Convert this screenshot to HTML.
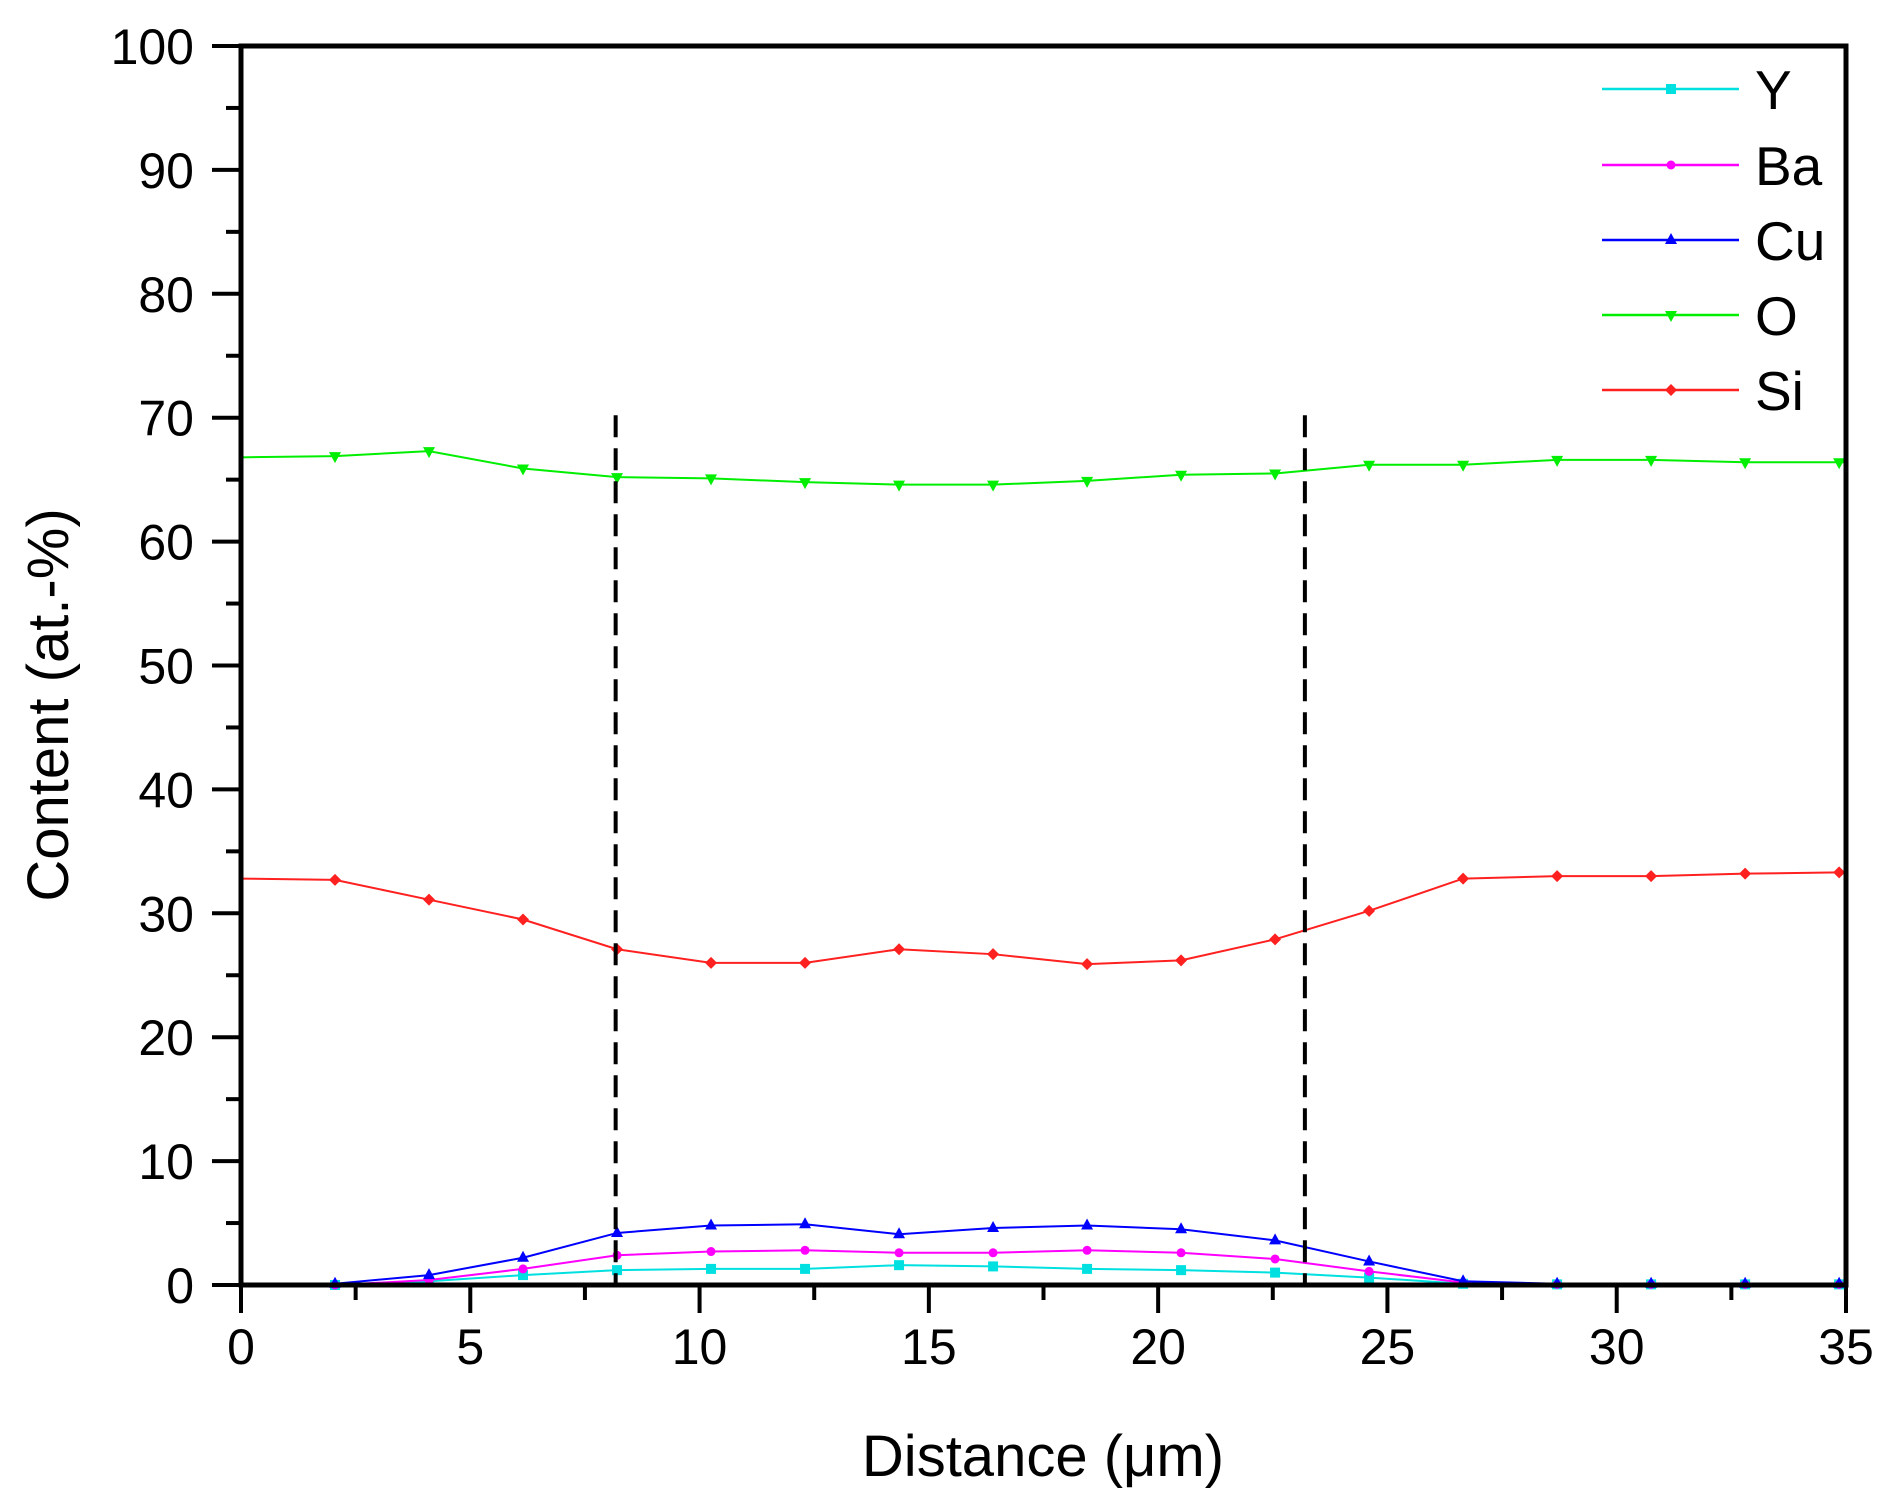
<!DOCTYPE html>
<html><head><meta charset="utf-8"><style>
html,body{margin:0;padding:0;background:#fff;}
svg{display:block;font-family:"Liberation Sans",Arial,sans-serif;}
</style></head><body>
<svg id="s" width="1890" height="1510" viewBox="0 0 1890 1510" xmlns="http://www.w3.org/2000/svg">
<rect width="1890" height="1510" fill="#fff"/>
<g id="g"></g>
<rect x="241" y="46" width="1605" height="1239" fill="none" stroke="#000" stroke-width="5"/>
<text x="1043" y="1476" font-size="58" text-anchor="middle">Distance (μm)</text>
<text transform="translate(68,705) rotate(-90)" font-size="58" text-anchor="middle">Content (at.-%)</text>
</svg>
<script>
const NS="http://www.w3.org/2000/svg",g=document.getElementById('g');
const X0=241,X1=1846,Y0=1285,Y1=46;
const px=x=>X0+(X1-X0)*x/35, py=y=>Y0-(Y0-Y1)*y/100;
function el(t,a,txt){const e=document.createElementNS(NS,t);for(const k in a)e.setAttribute(k,a[k]);if(txt!=null)e.textContent=txt;g.appendChild(e);return e;}
// y ticks
for(let v=0;v<=100;v+=5){const y=py(v);const maj=v%10==0;el('line',{x1:maj?212:226,x2:241,y1:y,y2:y,stroke:'#000','stroke-width':4});
 if(maj)el('text',{x:194,y:y+18,'font-size':50,'text-anchor':'end'},v);}
for(let v=0;v<=35;v+=2.5){const x=px(v);const maj=v%5==0;el('line',{x1:x,x2:x,y1:1285,y2:maj?1313:1300,stroke:'#000','stroke-width':4});
 if(maj)el('text',{x:x,y:1364,'font-size':50,'text-anchor':'middle'},v);}
const xs=[];for(let i=0;i<18;i++)xs.push(i*2.05);
const S={
O:{c:'#00ee00',m:'tridown',d:[66.8,66.9,67.3,65.9,65.2,65.1,64.8,64.6,64.6,64.9,65.4,65.5,66.2,66.2,66.6,66.6,66.4,66.4]},
Si:{c:'#ff2020',m:'diamond',d:[32.8,32.7,31.1,29.5,27.1,26.0,26.0,27.1,26.7,25.9,26.2,27.9,30.2,32.8,33.0,33.0,33.2,33.3]},
Cu:{c:'#0000ff',m:'tri',d:[null,0.1,0.8,2.2,4.2,4.8,4.9,4.1,4.6,4.8,4.5,3.6,1.9,0.3,0.1,0.1,0.1,0.1]},
Ba:{c:'#ff00ff',m:'circle',d:[null,0,0.4,1.3,2.4,2.7,2.8,2.6,2.6,2.8,2.6,2.1,1.1,0.2,0.05,0.05,0.05,0.05]},
Y:{c:'#00e0e0',m:'square',d:[null,0,0.3,0.8,1.2,1.3,1.3,1.6,1.5,1.3,1.2,1.0,0.6,0.1,0.05,0.05,0.05,0.05]}};
function marker(m,x,y,c){
 if(m=='square')el('rect',{x:x-5,y:y-5,width:10,height:10,fill:c});
 else if(m=='circle')el('circle',{cx:x,cy:y,r:4.5,fill:c});
 else if(m=='tri')el('polygon',{points:`${x},${y-7} ${x-6},${y+4} ${x+6},${y+4}`,fill:c});
 else if(m=='tridown')el('polygon',{points:`${x},${y+7} ${x-6},${y-4} ${x+6},${y-4}`,fill:c});
 else el('polygon',{points:`${x},${y-6} ${x+6},${y} ${x},${y+6} ${x-6},${y}`,fill:c});
}
for(const k of ['Y','Ba','Cu','Si','O']){const s=S[k];let pts=[];
 if(s.d[0]==null){pts.push([px(0),py(0)]);}
 s.d.forEach((v,i)=>{if(v!=null)pts.push([px(xs[i]),py(v)]);});
 pts.push([px(35),pts[pts.length-1][1]]);
 el('polyline',{points:pts.map(p=>p.join(',')).join(' '),fill:'none',stroke:s.c,'stroke-width':2});
 s.d.forEach((v,i)=>{if(v!=null&&i>0)marker(s.m,px(xs[i]),py(v),s.c);});
}
// dashed lines
[8.17,23.2].forEach(v=>el('line',{x1:px(v),x2:px(v),y1:py(70.2),y2:1285,stroke:'#000','stroke-width':4,'stroke-dasharray':'22,11'}));
// legend
const L=[['Y','square',89],['Ba','circle',165],['Cu','tri',240],['O','tridown',315],['Si','diamond',390]];
L.forEach(([n,m,y])=>{const c=S[n].c;el('line',{x1:1602,x2:1739,y1:y,y2:y,stroke:c,'stroke-width':2.5});marker(m,1671,y,c);
 el('text',{x:1755,y:y+20,'font-size':55},n);});
</script>
</body></html>
